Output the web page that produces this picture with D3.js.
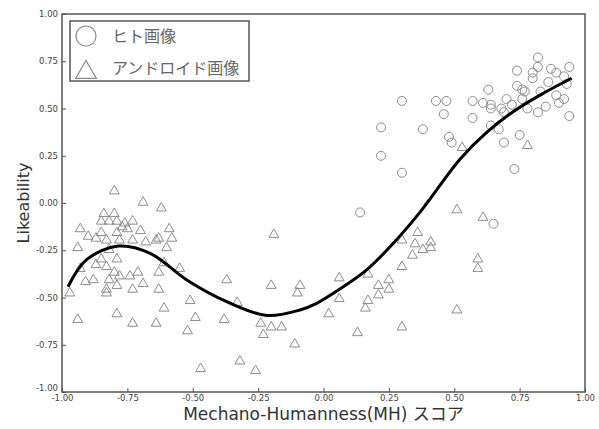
<!DOCTYPE html>
<html>
<head>
<meta charset="utf-8">
<script src="https://cdn.jsdelivr.net/npm/d3@7"></script>
<style>
  body { margin: 0; background: #fff; }
</style>
</head>
<body>
<script>
// ヒト画像 (circles)
const humanX = [0.14, 0.22, 0.22, 0.30, 0.30, 0.38, 0.43, 0.47, 0.46, 0.48, 0.49, 0.57, 0.57, 0.61, 0.63, 0.64, 0.64, 0.64, 0.67, 0.68, 0.69, 0.70, 0.69, 0.72, 0.74, 0.74, 0.76, 0.77, 0.76, 0.78, 0.75, 0.73, 0.65, 0.80, 0.80, 0.82, 0.82, 0.83, 0.82, 0.85, 0.86, 0.87, 0.89, 0.89, 0.90, 0.92, 0.92, 0.94, 0.93, 0.94];
const humanY = [-0.05, 0.40, 0.25, 0.16, 0.54, 0.39, 0.54, 0.54, 0.47, 0.35, 0.32, 0.54, 0.45, 0.53, 0.60, 0.52, 0.50, 0.41, 0.39, 0.50, 0.48, 0.55, 0.32, 0.52, 0.70, 0.62, 0.60, 0.59, 0.55, 0.50, 0.36, 0.18, -0.11, 0.69, 0.66, 0.77, 0.72, 0.59, 0.48, 0.51, 0.64, 0.71, 0.69, 0.57, 0.53, 0.55, 0.67, 0.72, 0.63, 0.46];

// アンドロイド画像 (triangles)
const androidX = [-0.80, -0.69, -0.62, -0.84, -0.80, -0.85, -0.82, -0.79, -0.76, -0.73, -0.77, -0.75, -0.70, -0.79, -0.85, -0.93, -0.90, -0.87, -0.83, -0.78, -0.73, -0.68, -0.64, -0.63, -0.59, -0.58, -0.60, -0.94, -0.82, -0.79, -0.85, -0.87, -0.83, -0.80, -0.93, -0.91, -0.88, -0.82, -0.78, -0.71, -0.74, -0.63, -0.61, -0.55, -0.69, -0.79, -0.73, -0.83, -0.83, -0.63, -0.97, -0.94, -0.79, -0.61, -0.73, -0.64,
  -0.51, -0.49, -0.52, -0.37, -0.33, -0.38, -0.20, -0.19, -0.24, -0.20, -0.16, -0.23, -0.11, -0.09, -0.10, -0.47, -0.32, -0.26,
  0.06, 0.02, 0.06, 0.17, 0.17, 0.16, 0.13, 0.21, 0.21, 0.25, 0.25, 0.30, 0.30, 0.30, 0.36, 0.35, 0.34, 0.38, 0.41, 0.41, 0.51, 0.51, 0.61, 0.59, 0.59, 0.53, 0.78];
const androidY = [0.07, 0.01, -0.02, -0.05, -0.05, -0.09, -0.09, -0.09, -0.10, -0.09, -0.12, -0.13, -0.14, -0.15, -0.15, -0.13, -0.17, -0.18, -0.19, -0.19, -0.19, -0.20, -0.19, -0.18, -0.13, -0.18, -0.23, -0.23, -0.24, -0.29, -0.29, -0.32, -0.33, -0.36, -0.34, -0.41, -0.40, -0.40, -0.38, -0.36, -0.38, -0.36, -0.31, -0.34, -0.42, -0.43, -0.45, -0.45, -0.47, -0.45, -0.47, -0.61, -0.58, -0.55, -0.63, -0.63,
  -0.51, -0.60, -0.67, -0.40, -0.52, -0.61, -0.43, -0.16, -0.63, -0.65, -0.65, -0.69, -0.74, -0.43, -0.47, -0.87, -0.83, -0.88,
  -0.39, -0.58, -0.50, -0.37, -0.51, -0.55, -0.68, -0.43, -0.48, -0.40, -0.45, -0.33, -0.19, -0.65, -0.15, -0.21, -0.27, -0.24, -0.20, -0.23, -0.03, -0.56, -0.07, -0.29, -0.34, 0.30, 0.31];

// 近似曲線
const fitX = [-0.977, -0.906, -0.785, -0.663, -0.523, -0.37, -0.217, -0.09, -0.026, 0.063, 0.165, 0.267, 0.356, 0.40, 0.522, 0.624, 0.725, 0.828, 0.949];
const fitY = [-0.443, -0.30, -0.228, -0.266, -0.407, -0.522, -0.595, -0.566, -0.531, -0.455, -0.354, -0.213, -0.071, 0.008, 0.232, 0.374, 0.483, 0.571, 0.66];

const ticks = [-1, -0.75, -0.5, -0.25, 0, 0.25, 0.5, 0.75, 1];
const legendLabels = ["ヒト画像", "アンドロイド画像"];

const width = 599;
const height = 429;
const margin = { top: 14, right: 14, bottom: 37, left: 62 };
const markerColor = "#8c8c8c";
const frameColor = "#555";

const svg = d3.select("body").append("svg")
  .attr("width", width)
  .attr("height", height);

const xScale = d3.scaleLinear()
  .domain([-1, 1])
  .range([margin.left, width - margin.right]);

const yScale = d3.scaleLinear()
  .domain([-1, 1])
  .range([height - margin.bottom, margin.top]);

const fmt = d => d.toFixed(2);

// 軸
const xAxis = d3.axisBottom(xScale).tickValues(ticks).tickFormat(fmt)
  .tickSizeInner(-4).tickSizeOuter(0).tickPadding(3);
const yAxis = d3.axisLeft(yScale).tickValues(ticks).tickFormat(fmt)
  .tickSizeInner(-4).tickSizeOuter(0).tickPadding(4);

const gx = svg.append("g")
  .attr("transform", `translate(0,${height - margin.bottom})`)
  .call(xAxis);
const gy = svg.append("g")
  .attr("transform", `translate(${margin.left},0)`)
  .call(yAxis);

[gx, gy].forEach(g => {
  g.select(".domain").remove();
  g.selectAll(".tick line").attr("stroke", frameColor);
  g.selectAll(".tick text")
    .attr("fill", "#444")
    .style("font-family", "DejaVu Sans")
    .style("font-size", "8.5px");
});

// y軸の -1.00 は少し上へ
gy.selectAll(".tick text").filter(d => d === -1).attr("dy", "-0.2em");

// 枠
svg.append("rect")
  .attr("x", xScale(-1))
  .attr("y", yScale(1))
  .attr("width", xScale(1) - xScale(-1))
  .attr("height", yScale(-1) - yScale(1))
  .attr("fill", "none")
  .attr("stroke", frameColor)
  .attr("stroke-width", 1.5);

// 点
const tri = d3.symbol().type(d3.symbolTriangle).size(42);

svg.append("g")
  .selectAll("path")
  .data(androidX.map((x, i) => [x, androidY[i]]))
  .join("path")
  .attr("d", tri)
  .attr("transform", d => `translate(${xScale(d[0])},${yScale(d[1]) + 1.3})`)
  .attr("fill", "none")
  .attr("stroke", markerColor)
  .attr("stroke-width", 1);

svg.append("g")
  .selectAll("circle")
  .data(humanX.map((x, i) => [x, humanY[i]]))
  .join("circle")
  .attr("cx", d => xScale(d[0]))
  .attr("cy", d => yScale(d[1]))
  .attr("r", 4.5)
  .attr("fill", "none")
  .attr("stroke", markerColor)
  .attr("stroke-width", 1);

// 曲線
const line = d3.line()
  .x(d => xScale(d[0]))
  .y(d => yScale(d[1]))
  .curve(d3.curveCatmullRom);

svg.append("path")
  .datum(fitX.map((x, i) => [x, fitY[i]]))
  .attr("d", line)
  .attr("fill", "none")
  .attr("stroke", "#000")
  .attr("stroke-width", 3);

// 軸ラベル
svg.append("text")
  .attr("x", (xScale(-1) + xScale(1)) / 2)
  .attr("y", 420)
  .attr("text-anchor", "middle")
  .attr("fill", "#333")
  .style("font-family", "'DejaVu Sans', 'Noto Sans CJK JP'")
  .style("font-size", "17px")
  .text("Mechano-Humanness(MH) スコア");

svg.append("text")
  .attr("transform", `translate(29,${(yScale(-1) + yScale(1)) / 2}) rotate(-90)`)
  .attr("text-anchor", "middle")
  .attr("fill", "#333")
  .style("font-family", "'DejaVu Sans'")
  .style("font-size", "16px")
  .text("Likeability");

// 凡例
const legend = svg.append("g");
legend.append("rect")
  .attr("x", 70).attr("y", 21)
  .attr("width", 179).attr("height", 60)
  .attr("fill", "#fff")
  .attr("stroke", frameColor)
  .attr("stroke-width", 1.5);

legend.append("circle")
  .attr("cx", 86).attr("cy", 36).attr("r", 10)
  .attr("fill", "none").attr("stroke", markerColor).attr("stroke-width", 1.2);

legend.append("path")
  .attr("d", d3.symbol().type(d3.symbolTriangle).size(185))
  .attr("transform", "translate(86,72.5)")
  .attr("fill", "none").attr("stroke", markerColor).attr("stroke-width", 1.2);

legend.selectAll("text.lab")
  .data(legendLabels)
  .join("text")
  .attr("class", "lab")
  .attr("x", 112)
  .attr("y", (d, i) => 36 + i * 32)
  .attr("dy", "0.36em")
  .attr("fill", "#666")
  .style("font-family", "'Noto Sans CJK JP'")
  .style("font-size", "16px")
  .text(d => d);
</script>
</body>
</html>
